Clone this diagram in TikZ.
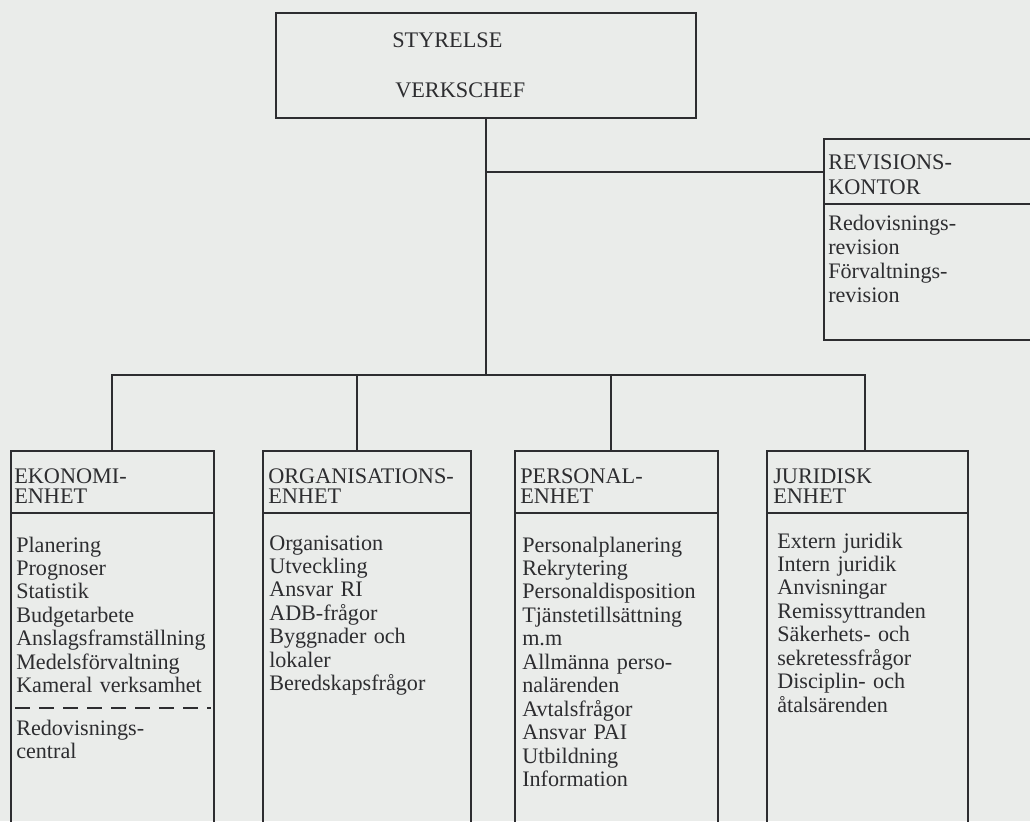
\documentclass[tikz,border=0pt]{standalone}
\usepackage{fontspec}
\setmainfont{Liberation Serif}
\definecolor{bg}{RGB}{234,236,234}
\definecolor{ink}{RGB}{45,45,48}
\begin{document}
\begin{tikzpicture}[x=0.75pt,y=-0.75pt,
  box/.style={draw=ink, line width=1.3pt, inner sep=0pt, anchor=north west},
  conn/.style={draw=ink, line width=1.3pt},
  divider/.style={draw=ink, line width=1.3pt},
  head/.style={anchor=base west, inner sep=0pt, text=ink, font=\fontsize{16.7}{15.4}\selectfont, text width=200pt, align=left},
  rhead/.style={head, font=\fontsize{16.7}{18.75}\selectfont},
  body/.style={anchor=base west, inner sep=0pt, text=ink, font=\fontsize{16.6}{17.6}\selectfont, text width=200pt, align=left},
  rbody/.style={body, font=\fontsize{16.6}{18}\selectfont},
]
\fill[bg] (0,0) rectangle (1030,821);
\clip (0,0) rectangle (1030,821);

% boxes
\node[box, minimum width={420*0.75pt}, minimum height={105*0.75pt}] (top) at (275,12) {};
\node[box, minimum width={225*0.75pt}, minimum height={201*0.75pt}] (rev) at (823,138) {};
\node[box, minimum width={203*0.75pt}, minimum height={400*0.75pt}] (eko) at (10,450) {};
\node[box, minimum width={208*0.75pt}, minimum height={400*0.75pt}] (org) at (262,450) {};
\node[box, minimum width={203*0.75pt}, minimum height={400*0.75pt}] (per) at (514,450) {};
\node[box, minimum width={201*0.75pt}, minimum height={400*0.75pt}] (jur) at (766,450) {};

% header dividers
\foreach \b in {eko,org,per,jur}{
  \draw[divider] ([yshift=-47.25pt]\b.north west) -- ([yshift=-47.25pt]\b.north east);
}
\draw[divider] ([yshift=-49.5pt]rev.north west) -- ([yshift=-49.5pt]rev.north east);
\draw[ink, line width=1.3pt, dash pattern=on 11.25pt off 6.75pt] (15,708) -- (211,708);

% connectors
\coordinate (rj) at (485,172);
\coordinate (b1) at (112,375);
\coordinate (b2) at (357,375);
\coordinate (b3) at (611,375);
\coordinate (b4) at (865,375);
\draw[conn] (top.south) -- (top.south |- b1);
\draw[conn] (rj) -- (rj -| rev.west);
\draw[conn] (b1 |- eko.north) -- (b1) -- (b4) -- (b4 |- jur.north);
\draw[conn] (b2) -- (b2 |- org.north);
\draw[conn] (b3) -- (b3 |- per.north);

% texts
\node[head] (tS) at (392,47) {STYRELSE};
\node[head] (tV) at (395,97) {VERKSCHEF};

\node[rhead] (hr) at (828,169) {REVISIONS-\\KONTOR};
\node[rbody] (tr) at (828,230) {Redovisnings-\\revision\\Förvaltnings-\\revision};

\node[head] (h1) at (14,483) {EKONOMI-\\ENHET};
\node[body] (t1) at (16,552) {Planering\\Prognoser\\Statistik\\Budgetarbete\\Anslagsframställning\\Medelsförvaltning\\Kameral verksamhet};
\node[body] (t1b) at (16,735) {Redovisnings-\\central};

\node[head] (h2) at (268,483) {ORGANISATIONS-\\ENHET};
\node[body] (t2) at (269,550) {Organisation\\Utveckling\\Ansvar RI\\ADB-frågor\\Byggnader och\\lokaler\\Beredskapsfrågor};

\node[head] (h3) at (520,483) {PERSONAL-\\ENHET};
\node[body] (t3) at (522,552) {Personalplanering\\Rekrytering\\Personaldisposition\\Tjänstetillsättning\\m.m\\Allmänna perso-\\nalärenden\\Avtalsfrågor\\Ansvar PAI\\Utbildning\\Information};

\node[head] (h4) at (773,483) {JURIDISK\\ENHET};
\node[body] (t4) at (777,548) {Extern juridik\\Intern juridik\\Anvisningar\\Remissyttranden\\Säkerhets- och\\sekretessfrågor\\Disciplin- och\\åtalsärenden};
\end{tikzpicture}
\end{document}
